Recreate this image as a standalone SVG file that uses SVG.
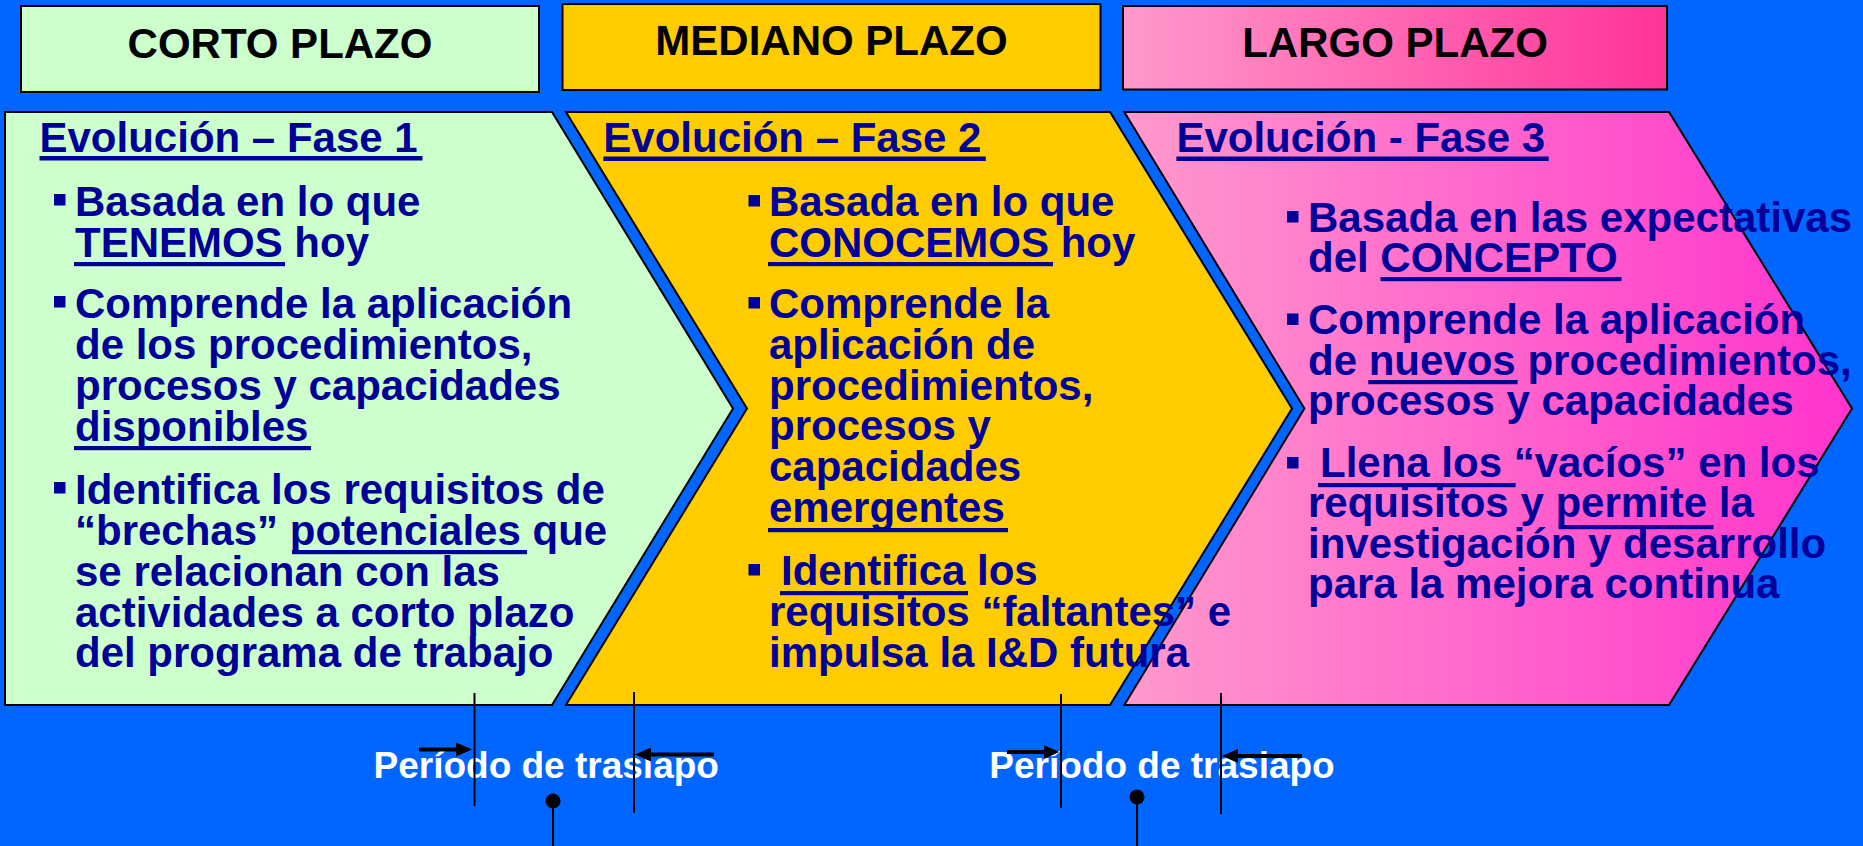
<svg xmlns="http://www.w3.org/2000/svg" width="1863" height="846" viewBox="0 0 1863 846">
<style>
.hdr{stroke:#000;stroke-width:2}
.ph{stroke:#000;stroke-width:2}
.ht{font-family:"Liberation Sans",Arial,sans-serif;font-weight:bold;font-size:42px;fill:#000;text-anchor:middle}
.tt{font-family:"Liberation Sans",Arial,sans-serif;font-weight:bold;font-size:42px;fill:#000099}
.bt{font-family:"Liberation Sans",Arial,sans-serif;font-weight:bold;font-size:42px;fill:#000099}
.ul{fill:#000099}
.bu{fill:#000099}
.ov{font-family:"Liberation Sans",Arial,sans-serif;font-weight:bold;font-size:37px;fill:#fff}
.vl{stroke:#000;stroke-width:2;fill:none}
.ar{stroke:#000;stroke-width:4;fill:none}
</style>
<defs>
<linearGradient id="gHdrPink" x1="0" y1="0" x2="1" y2="0">
<stop offset="0" stop-color="#FF99CC"/>
<stop offset="1" stop-color="#FF3399"/>
</linearGradient>
<linearGradient id="gPhPink" x1="0" y1="0" x2="1" y2="0">
<stop offset="0" stop-color="#FF99CC"/>
<stop offset="1" stop-color="#FF33CC"/>
</linearGradient>
<marker id="ah" markerUnits="userSpaceOnUse" markerWidth="16" markerHeight="14" viewBox="0 0 16 14" refX="8" refY="7" orient="auto">
<path d="M0,0 L16,7 L0,14 z" fill="#000"/>
</marker>
</defs>
<rect x="0" y="0" width="1863" height="846" fill="#0066FF"/>

<g id="hdr-corto">
<rect class="hdr" x="21" y="6" width="518" height="86" fill="#CCFFCC"/>
<text class="ht" x="280" y="58">CORTO PLAZO</text>
</g>
<g id="hdr-mediano">
<rect class="hdr" x="562.5" y="4" width="538" height="86" fill="#FFCC00"/>
<text class="ht" x="831.5" y="55">MEDIANO PLAZO</text>
</g>
<g id="hdr-largo">
<rect class="hdr" x="1123" y="6" width="544" height="83.5" fill="url(#gHdrPink)"/>
<text class="ht" x="1395" y="57">LARGO PLAZO</text>
</g>

<g id="fase3">
<polygon class="ph" points="1124.3,112 1669,112 1852,408.5 1669,705 1124.3,705 1304.4,408.5" fill="url(#gPhPink)"/>
<text class="tt" x="1176.4" y="152">Evolución - Fase 3</text>
<rect class="ul" x="1176.4" y="156.5" width="372.3" height="4.5"/>
<rect class="bu" x="1287" y="211" width="11.5" height="11.5"/>
<text class="bt" x="1308" y="232">Basada en las expectativas</text>
<text class="bt" x="1308" y="272">del CONCEPTO</text>
<rect class="ul" x="1380.5" y="277" width="241" height="4.2"/>
<rect class="bu" x="1287" y="313.5" width="11.5" height="11.5"/>
<text class="bt" x="1308" y="334">Comprende la aplicación</text>
<text class="bt" x="1308" y="375">de nuevos procedimientos,</text>
<rect class="ul" x="1368.3" y="380" width="149.3" height="4.2"/>
<text class="bt" x="1308" y="415">procesos y capacidades</text>
<rect class="bu" x="1287" y="457" width="11.5" height="11.5"/>
<text class="bt" x="1320" y="477">Llena los “vacíos” en los</text>
<rect class="ul" x="1318" y="483" width="197.6" height="4.2"/>
<text class="bt" x="1308" y="517">requisitos y permite la</text>
<rect class="ul" x="1558.5" y="525" width="155" height="4.2"/>
<text class="bt" x="1308" y="558">investigación y desarrollo</text>
<text class="bt" x="1308" y="598">para la mejora continua</text>
</g>

<g id="fase2">
<polygon class="ph" points="566,112 1110,112 1292,408.5 1110,705 566,705 747,408.5" fill="#FFCC00"/>
<text class="tt" x="603.3" y="152">Evolución – Fase 2</text>
<rect class="ul" x="603.3" y="156.5" width="382.5" height="4.5"/>
<rect class="bu" x="748.5" y="195" width="11.5" height="11.5"/>
<text class="bt" x="769" y="216">Basada en lo que</text>
<text class="bt" x="769" y="257">CONOCEMOS hoy</text>
<rect class="ul" x="768" y="262" width="285" height="4.2"/>
<rect class="bu" x="748.5" y="297" width="11.5" height="11.5"/>
<text class="bt" x="769" y="318">Comprende la</text>
<text class="bt" x="769" y="359">aplicación de</text>
<text class="bt" x="769" y="400">procedimientos,</text>
<text class="bt" x="769" y="440">procesos y</text>
<text class="bt" x="769" y="481">capacidades</text>
<text class="bt" x="769" y="522">emergentes</text>
<rect class="ul" x="768" y="528" width="240" height="4.2"/>
<rect class="bu" x="748.5" y="564" width="11.5" height="11.5"/>
<text class="bt" x="781" y="585">Identifica los</text>
<rect class="ul" x="780" y="591" width="188" height="4.2"/>
<text class="bt" x="769" y="626">requisitos “faltantes” e</text>
<text class="bt" x="769" y="667">impulsa la I&amp;D futura</text>
</g>

<g id="fase1">
<polygon class="ph" points="5,112 552,112 733,408.5 552,705 5,705" fill="#CCFFCC"/>
<text class="tt" x="39.5" y="152">Evolución – Fase 1</text>
<rect class="ul" x="39.5" y="156" width="383" height="4.5"/>
<rect class="bu" x="54" y="194" width="11.5" height="11.5"/>
<text class="bt" x="75" y="216">Basada en lo que</text>
<text class="bt" x="75" y="257">TENEMOS hoy</text>
<rect class="ul" x="74" y="262" width="211" height="4.2"/>
<rect class="bu" x="54" y="296" width="11.5" height="11.5"/>
<text class="bt" x="75" y="318">Comprende la aplicación</text>
<text class="bt" x="75" y="359">de los procedimientos,</text>
<text class="bt" x="75" y="400">procesos y capacidades</text>
<text class="bt" x="75" y="441">disponibles</text>
<rect class="ul" x="74" y="446" width="237" height="4.2"/>
<rect class="bu" x="54" y="482" width="11.5" height="11.5"/>
<text class="bt" x="75" y="504">Identifica los requisitos de</text>
<text class="bt" x="75" y="545">“brechas” potenciales que</text>
<rect class="ul" x="292" y="550" width="235" height="4.2"/>
<text class="bt" x="75" y="586">se relacionan con las</text>
<text class="bt" x="75" y="627">actividades a corto plazo</text>
<text class="bt" x="75" y="667">del programa de trabajo</text>
</g>

<g id="traslapo-1">
<text class="ov" x="373.5" y="778">Período de traslapo</text>
</g>
<g id="traslapo-2">
<text class="ov" x="989.3" y="778">Período de traslapo</text>
</g>

<g id="connectors">
<line class="vl" x1="474.5" y1="693" x2="474.5" y2="806"/>
<line class="vl" x1="634" y1="692" x2="634" y2="813"/>
<line class="vl" x1="1061" y1="694" x2="1061" y2="808"/>
<line class="vl" x1="1221" y1="693" x2="1221" y2="814"/>
<line class="ar" x1="419" y1="749.5" x2="464" y2="749.5" marker-end="url(#ah)"/>
<line class="ar" x1="714" y1="754.5" x2="643" y2="754.5" marker-end="url(#ah)"/>
<line class="ar" x1="1007" y1="752" x2="1051.5" y2="752" marker-end="url(#ah)"/>
<line class="ar" x1="1302" y1="756" x2="1230" y2="756" marker-end="url(#ah)"/>
<line class="vl" x1="553" y1="801" x2="553" y2="846"/>
<circle cx="553" cy="801" r="7.5" fill="#000"/>
<line class="vl" x1="1137" y1="797" x2="1137" y2="846"/>
<circle cx="1137" cy="797" r="7.5" fill="#000"/>
</g>
</svg>
